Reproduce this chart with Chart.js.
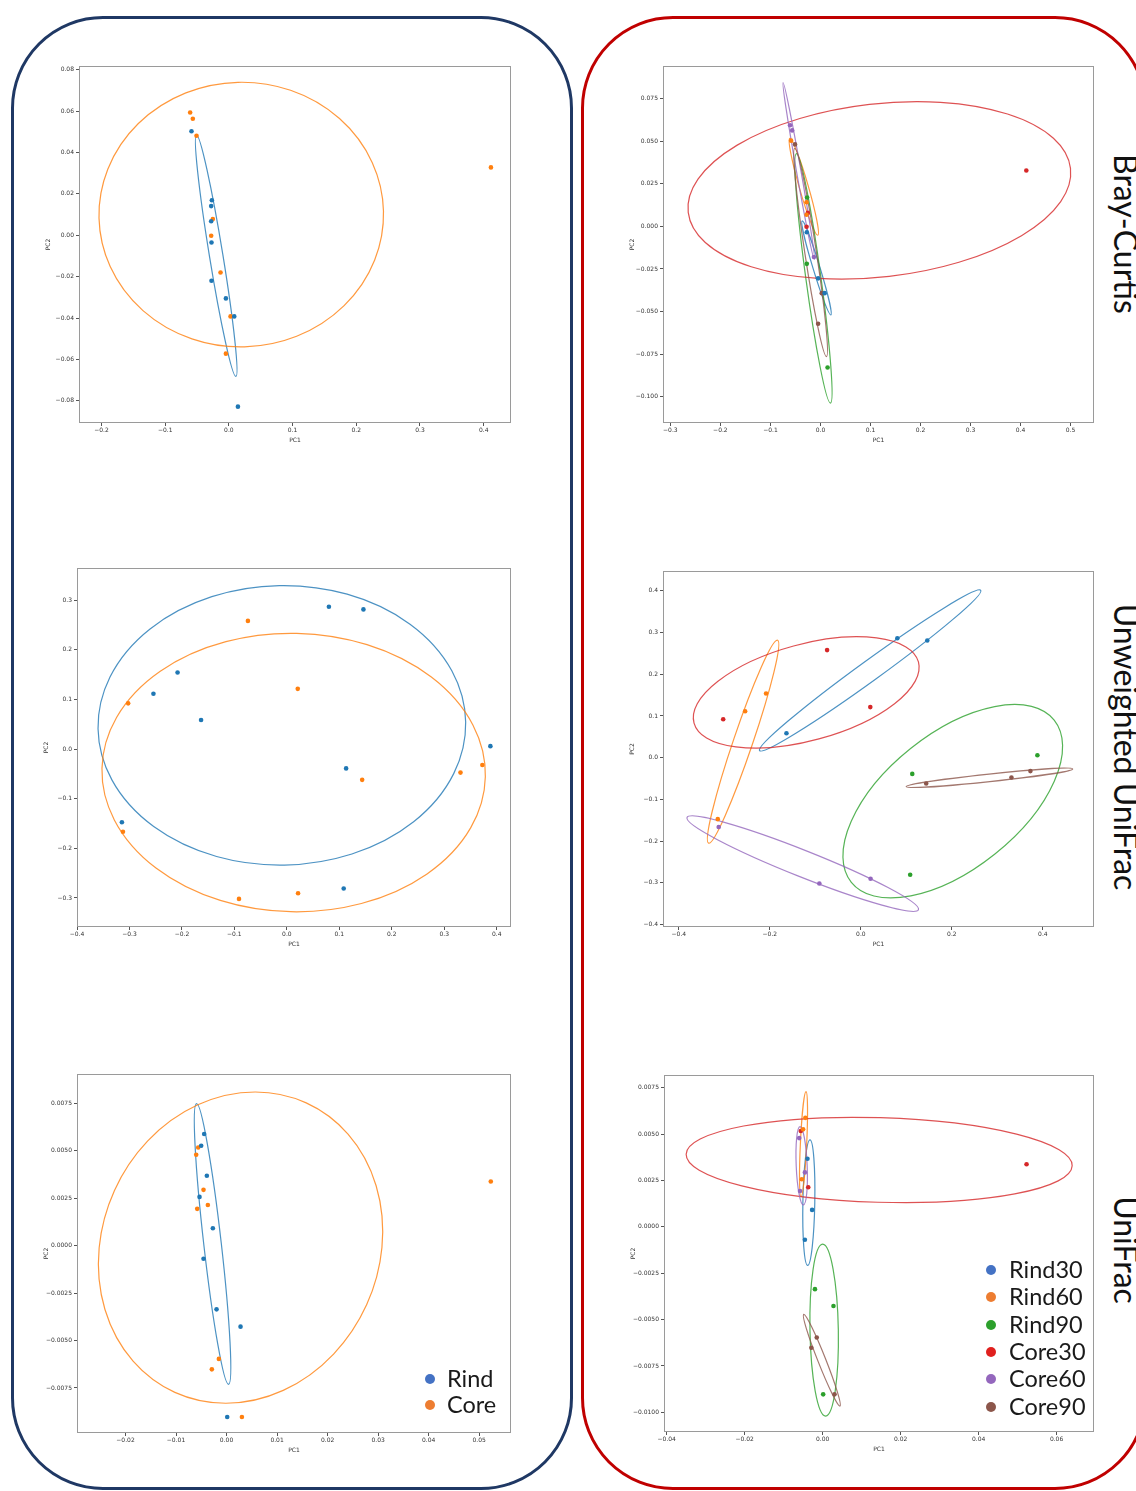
<!DOCTYPE html>
<html>
<head>
<meta charset="utf-8">
<script src="https://cdn.jsdelivr.net/npm/chart.js@4.4.0/dist/chart.umd.min.js"></script>
<style>
  body { margin: 0; background: #fff; }
  #page { position: relative; width: 1136px; height: 1491px; overflow: hidden; background: #fff; }
  .frame { position: absolute; border: 3px solid; border-radius: 92px; box-sizing: border-box; }
  canvas { position: absolute; }
  .side { position: absolute; writing-mode: vertical-rl; font-family: Lato, sans-serif; font-size: 32px;
          line-height: 38px; color: #111; transform: translateY(-50%); white-space: nowrap; }
  .leg { position: absolute; font-family: Lato, sans-serif; font-size: 23.5px; line-height: 28px; color: #1a1a1a; white-space: nowrap; z-index: 2; }
  .dot { position: absolute; width: 10px; height: 10px; border-radius: 50%; z-index: 2; }
</style>
</head>
<body>
<div id="page">
  <div class="frame" style="left:11px; top:16px; width:562px; height:1474px; border-color:#1f3864;"></div>
  <div class="frame" style="left:581px; top:16px; width:566px; height:1474px; border-color:#c00000;"></div>
</div>
<script>
// ---------- groups and colours
const GROUPS2 = ['Rind', 'Core'];
const GROUPS6 = ['Rind30', 'Rind60', 'Rind90', 'Core30', 'Core60', 'Core90'];
const TAB = ['#1f77b4', '#ff7f0e', '#2ca02c', '#d62728', '#9467bd', '#8c564b'];
const DOTS2 = ['#4472c4', '#ed7d31'];
const DOTS6 = ['#4472c4', '#ed7d31', '#2ca02c', '#e0201e', '#9467bd', '#8c564b'];
const METRICS = ['Bray-Curtis', 'Unweighted UniFrac', 'UniFrac'];

// ---------- Bray-Curtis PCoA [PC1, PC2]
const brayRind30 = [[-0.0273, -0.0035], [-0.0047, -0.0305], [0.0084, -0.0392]];
const brayRind60 = [[-0.0587, 0.0503], [-0.0278, 0.0141], [-0.0278, 0.0068]];
const brayRind90 = [[-0.0267, 0.0169], [-0.0273, -0.0220], [0.0142, -0.0828]];
const brayCore30 = [[-0.0252, 0.0079], [-0.0278, -0.0002], [0.4114, 0.0328]];
const brayCore60 = [[-0.0608, 0.0593], [-0.0566, 0.0563], [-0.0131, -0.0180]];
const brayCore90 = [[-0.0508, 0.0481], [0.0026, -0.0392], [-0.0047, -0.0572]];

// ---------- Unweighted UniFrac PCoA
const unwRind30 = [[-0.1635, 0.0584], [0.0802, 0.2865], [0.1460, 0.2811]];
const unwRind60 = [[-0.2543, 0.1114], [-0.2083, 0.1540], [-0.3144, -0.1475]];
const unwRind90 = [[0.1130, -0.0390], [0.3880, 0.0058], [0.1084, -0.2810]];
const unwCore30 = [[-0.3025, 0.0920], [-0.0742, 0.2580], [0.0208, 0.1212]];
const unwCore60 = [[-0.3124, -0.1665], [-0.0912, -0.3018], [0.0214, -0.2905]];
const unwCore90 = [[0.1436, -0.0621], [0.3310, -0.0475], [0.3727, -0.0322]];

// ---------- UniFrac PCoA
const uniRind30 = [[-0.00390, 0.00367], [-0.00271, 0.00091], [-0.00456, -0.00070]];
const uniRind60 = [[-0.00443, 0.00587], [-0.00502, 0.00525], [-0.00535, 0.00256]];
const uniRind90 = [[-0.00198, -0.00336], [0.00277, -0.00427], [0.00013, -0.00903]];
const uniCore30 = [[0.05230, 0.00337], [-0.00370, 0.00213], [-0.00561, 0.00516]];
const uniCore60 = [[-0.00601, 0.00478], [-0.00581, 0.00193], [-0.00456, 0.00293]];
const uniCore90 = [[-0.00152, -0.00597], [-0.00291, -0.00652], [0.00304, -0.00903]];

// ---------- confidence ellipses [centre PC1, centre PC2, tip PC1, tip PC2, minor/major]
const brayEll2 = [[-0.0199, -0.0099, -0.0508, 0.0484, 0.055], [0.0194, 0.0100, 0.2427, 0.0117, 0.93]];
const brayEll6 = [[-0.0079, -0.0244, 0.0207, -0.0520, 0.07], [-0.0333, 0.0232, -0.0613, 0.0516, 0.09],
                  [-0.0140, -0.0305, 0.0200, -0.1037, 0.06], [0.1177, 0.0211, 0.4997, 0.0340, 0.45],
                  [-0.0435, 0.0325, -0.0747, 0.0844, 0.025], [-0.0197, -0.0153, 0.0120, -0.0764, 0.055]];
const unwEll2 = [[-0.0095, 0.0477, 0.3409, 0.0545, 0.76], [0.0130, -0.0474, 0.3784, -0.0558, 0.726]];
const unwEll6 = [[0.0205, 0.2091, 0.2635, 0.4014, 0.075], [-0.2588, 0.0383, -0.1830, 0.2817, 0.09],
                 [0.2020, -0.1045, 0.4249, 0.0900, 0.52], [-0.1200, 0.1564, 0.1266, 0.2298, 0.414],
                 [-0.1277, -0.2542, 0.1266, -0.3647, 0.106], [0.2826, -0.0483, 0.4656, -0.0271, 0.045]];
const uniEll2 = [[-0.00277, 0.00008, -0.00594, 0.00747, 0.062], [0.00277, -0.00011, 0.01577, 0.00751, 0.871]];
const uniEll6 = [[-0.00355, 0.00130, -0.00325, 0.00468, 0.095], [-0.00491, 0.00445, -0.00427, 0.00728, 0.06],
                 [0.00038, -0.00557, 0.00077, -0.01020, 0.165], [0.01449, 0.00360, 0.06400, 0.00329, 0.219],
                 [-0.00538, 0.00329, -0.00581, 0.00540, 0.14], [-0.00021, -0.00719, 0.00444, -0.00966, 0.08]];

// ---------- axis limits and ticks
const brayX2 = [-0.2353, 0.4429], brayY2 = [-0.0907, 0.0818];
const brayX6 = [-0.3147, 0.5467], brayY6 = [-0.1154, 0.0941];
const unwX2 = [-0.400, 0.4273], unwY2 = [-0.3584, 0.3645];
const unwX6 = [-0.4348, 0.5124], unwY6 = [-0.4062, 0.4477];
const uniX2 = [-0.0296, 0.0563], uniY2 = [-0.00987, 0.00903];
const uniX6 = [-0.0407, 0.0696], uniY6 = [-0.01106, 0.00818];

const brayTicksX2 = [-0.2, -0.1, 0, 0.1, 0.2, 0.3, 0.4];
const brayTicksY2 = [-0.08, -0.06, -0.04, -0.02, 0, 0.02, 0.04, 0.06, 0.08];
const brayTicksX6 = [-0.3, -0.2, -0.1, 0, 0.1, 0.2, 0.3, 0.4, 0.5];
const brayTicksY6 = [-0.1, -0.075, -0.05, -0.025, 0, 0.025, 0.05, 0.075];
const unwTicksX2 = [-0.4, -0.3, -0.2, -0.1, 0, 0.1, 0.2, 0.3, 0.4];
const unwTicksY2 = [-0.3, -0.2, -0.1, 0, 0.1, 0.2, 0.3];
const unwTicksX6 = [-0.4, -0.2, 0, 0.2, 0.4];
const unwTicksY6 = [-0.4, -0.3, -0.2, -0.1, 0, 0.1, 0.2, 0.3, 0.4];
const uniTicksX2 = [-0.02, -0.01, 0, 0.01, 0.02, 0.03, 0.04, 0.05];
const uniTicksY2 = [-0.0075, -0.005, -0.0025, 0, 0.0025, 0.005, 0.0075];
const uniTicksX6 = [-0.04, -0.02, 0, 0.02, 0.04, 0.06];
const uniTicksY6 = [-0.01, -0.0075, -0.005, -0.0025, 0, 0.0025, 0.005, 0.0075];

// ---------- plugins
const ellipseLayer = {
    id: 'ellipseLayer',
    beforeDatasetsDraw(chart, args, opts) {
        const { ctx, chartArea: a, scales: { x, y } } = chart;
        ctx.save();
        ctx.beginPath();
        ctx.rect(a.left, a.top, a.width, a.height);
        ctx.clip();
        ctx.globalAlpha = 0.8;
        opts.items.forEach((e, i) => {
            const px = x.getPixelForValue(e[0]), py = y.getPixelForValue(e[1]);
            const qx = x.getPixelForValue(e[2]), qy = y.getPixelForValue(e[3]);
            const semi = Math.hypot(qx - px, qy - py);
            ctx.beginPath();
            ctx.ellipse(px, py, semi, semi * e[4], Math.atan2(qy - py, qx - px), 0, Math.PI * 2);
            ctx.strokeStyle = opts.colors[i];
            ctx.lineWidth = 1.2;
            ctx.stroke();
        });
        ctx.restore();
    }
};

const axesBox = {
    id: 'axesBox',
    afterDatasetsDraw(chart) {
        const { ctx, chartArea: a } = chart;
        ctx.save();
        ctx.strokeStyle = '#9a9a9a';
        ctx.lineWidth = 1;
        ctx.strokeRect(a.left + 0.5, a.top + 0.5, a.width - 1, a.height - 1);
        ctx.restore();
    }
};

function fmt(v, dec) {
    const s = Math.abs(v).toFixed(dec);
    return (v < 0 && Number(s) !== 0 ? '\u2212' : '') + s;
}

function axis(range, ticks, dec, title, isX) {
    return {
        type: 'linear',
        min: range[0],
        max: range[1],
        afterBuildTicks: s => { s.ticks = ticks.map(v => ({ value: v })); },
        afterFit: s => { if (isX) s.height = 24; else s.width = 40; },
        grid: { display: true, drawOnChartArea: false, drawTicks: true, tickLength: 3, color: '#555' },
        border: { display: false },
        ticks: {
            font: { family: 'DejaVu Sans', size: 6 }, color: '#333', padding: isX ? 1 : 2,
            maxRotation: 0, autoSkip: false, callback: v => fmt(v, dec)
        },
        title: {
            display: true, text: title, color: '#333',
            font: { family: 'DejaVu Sans', size: 6 },
            padding: isX ? { top: 0, bottom: 3 } : { top: 6, bottom: 0 }
        }
    };
}

const page = document.getElementById('page');

function makeChart(box, groups, series, ells, xr, yr, xt, yt, xdec, ydec) {
    const [L, T, W, H] = box;
    const cv = document.createElement('canvas');
    cv.width = W + 50;
    cv.height = H + 34;
    cv.style.left = (L - 40) + 'px';
    cv.style.top = (T - 10) + 'px';
    page.appendChild(cv);
    new Chart(cv, {
        type: 'scatter',
        data: {
            datasets: groups.map((g, i) => ({
                label: g,
                data: series[i].map(p => ({ x: p[0], y: p[1] })),
                backgroundColor: TAB[i],
                borderColor: TAB[i],
                borderWidth: 0,
                pointRadius: 2.3
            }))
        },
        options: {
            responsive: false,
            animation: false,
            layout: { padding: { top: 10, right: 10, left: 0, bottom: 0 } },
            plugins: {
                legend: { display: false },
                tooltip: { enabled: false },
                ellipseLayer: { items: ells, colors: TAB }
            },
            scales: {
                x: axis(xr, xt, xdec, 'PC1', true),
                y: axis(yr, yt, ydec, 'PC2', false)
            }
        },
        plugins: [ellipseLayer, axesBox]
    });
}

// plot boxes [left, top, width, height]
const BOX = {
    bray2: [79, 66, 432, 357], bray6: [663, 66, 431, 357],
    unw2: [77, 568, 434, 359], unw6: [663, 571, 431, 356],
    uni2: [77, 1074, 434, 359], uni6: [664, 1075, 430, 357]
};

const two = (r30, r60, r90, c30, c60, c90) => [r30.concat(r60, r90), c30.concat(c60, c90)];

makeChart(BOX.bray2, GROUPS2, two(brayRind30, brayRind60, brayRind90, brayCore30, brayCore60, brayCore90),
          brayEll2, brayX2, brayY2, brayTicksX2, brayTicksY2, 1, 2);
makeChart(BOX.bray6, GROUPS6, [brayRind30, brayRind60, brayRind90, brayCore30, brayCore60, brayCore90],
          brayEll6, brayX6, brayY6, brayTicksX6, brayTicksY6, 1, 3);
makeChart(BOX.unw2, GROUPS2, two(unwRind30, unwRind60, unwRind90, unwCore30, unwCore60, unwCore90),
          unwEll2, unwX2, unwY2, unwTicksX2, unwTicksY2, 1, 1);
makeChart(BOX.unw6, GROUPS6, [unwRind30, unwRind60, unwRind90, unwCore30, unwCore60, unwCore90],
          unwEll6, unwX6, unwY6, unwTicksX6, unwTicksY6, 1, 1);
makeChart(BOX.uni2, GROUPS2, two(uniRind30, uniRind60, uniRind90, uniCore30, uniCore60, uniCore90),
          uniEll2, uniX2, uniY2, uniTicksX2, uniTicksY2, 2, 4);
makeChart(BOX.uni6, GROUPS6, [uniRind30, uniRind60, uniRind90, uniCore30, uniCore60, uniCore90],
          uniEll6, uniX6, uniY6, uniTicksX6, uniTicksY6, 2, 4);

// ---------- legends (overlaid, as in the figure)
function addLegend(names, dots, cx, cy0, step, textX) {
    names.forEach((n, i) => {
        const cy = cy0 + i * step;
        const d = document.createElement('div');
        d.className = 'dot';
        d.style.left = (cx - 5) + 'px';
        d.style.top = (cy - 5) + 'px';
        d.style.background = dots[i];
        const t = document.createElement('div');
        t.className = 'leg';
        t.textContent = n;
        t.style.left = textX + 'px';
        t.style.top = (cy - 15) + 'px';
        page.append(d, t);
    });
}
addLegend(GROUPS2, DOTS2, 430, 1379, 26, 447);
addLegend(GROUPS6, DOTS6, 991, 1270, 27.3, 1009);

// ---------- distance metric labels on the right
const SIDE_Y = [234, 747, 1250];
METRICS.forEach((m, i) => {
    const s = document.createElement('div');
    s.className = 'side';
    s.textContent = m;
    s.style.left = '1107px';
    s.style.top = SIDE_Y[i] + 'px';
    page.appendChild(s);
});
</script>
</body>
</html>
